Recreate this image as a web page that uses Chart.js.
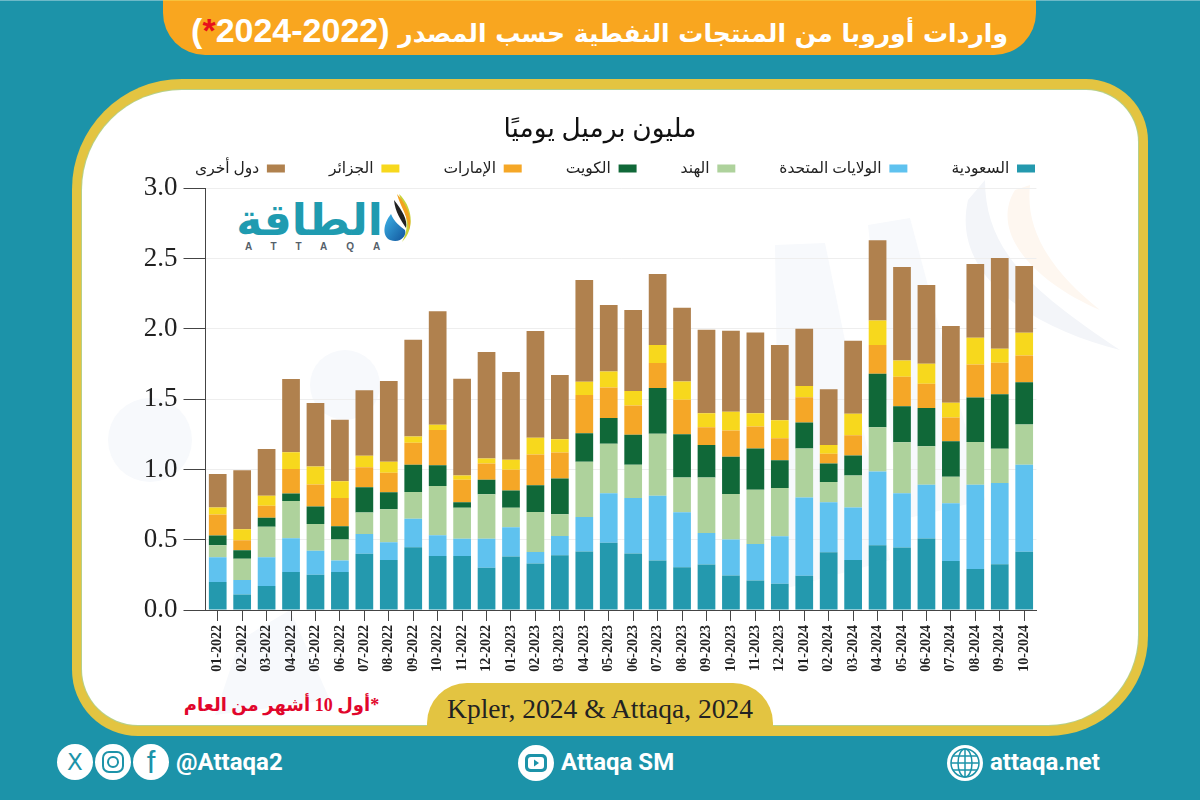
<!DOCTYPE html>
<html lang="ar">
<head>
<meta charset="utf-8">
<title>واردات أوروبا من المنتجات النفطية</title>
<script src="https://cdn.jsdelivr.net/npm/chart.js@4"></script>
<style>
  html, body { margin: 0; padding: 0; }
  body { width: 1200px; height: 800px; background: #1c93a9; position: relative; overflow: hidden; font-family: "Liberation Serif", "DejaVu Sans", serif; }
  .abs { position: absolute; white-space: nowrap; }
  #topLine { left: 0; top: 0; width: 1200px; height: 1px; background: #6db9c8; }
  #banner { left: 163px; top: 0; width: 873px; height: 55px; background: #f9a61f; border-radius: 0 0 42px 42px; border-top: 1px solid #f7c23c; box-sizing: border-box; }
  #headline { left: 163px; width: 873px; top: 11px; text-align: center; color: #fff; font: bold 25px "DejaVu Sans", sans-serif; direction: rtl; line-height: 44px; }
  #headline b { font: bold 34px "Liberation Sans", sans-serif; }
  #headline span { color: #e8111b; }
  #frame { left: 72px; top: 79px; width: 1076px; height: 657px; background: #e3c441; border-radius: 110px 62px 100px 66px; }
  #panel { left: 82px; top: 90px; width: 1056px; height: 635px; background: #fff; border-radius: 100px 52px 90px 56px; box-shadow: 0 0 0 1px #b5d08a; }
  #watermark { left: 82px; top: 90px; }
  #sourceTab { left: 427px; top: 683px; width: 346px; height: 52px; background: #e3c441; border-radius: 40px 40px 0 0; }
  #sourceText { left: 427px; width: 346px; top: 693px; text-align: center; font: 27.500px "Liberation Serif", serif; color: #222; line-height: 32px; }
  #footnote { left: 183px; top: 690px; width: 197px; text-align: center; font: bold 18px "Liberation Serif", "DejaVu Sans", serif; color: #e1062c; direction: rtl; line-height: 30px; }
  #chartBox { left: 90px; top: 55px; width: 955px; height: 625px; }
  #logoText { left: 232px; top: 194px; width: 155px; text-align: center; font: bold 44px "DejaVu Sans", sans-serif; color: #1f9bb0; line-height: 52px; direction: rtl; }
  #logoLatin { left: 245px; top: 240px; font: bold 10px "Liberation Sans", sans-serif; letter-spacing: 19px; color: #55606a; line-height: 14px; }
  .handle { top: 747px; font: bold 24px "Roboto", "Liberation Sans", sans-serif; color: #fff; line-height: 30px; }
</style>
</head>
<body>
<div class="abs" id="topLine"></div>
<div class="abs" id="banner"></div>
<div class="abs" id="headline">واردات أوروبا من المنتجات النفطية حسب المصدر <b>(2022-2024<span>*</span>)</b></div>
<div class="abs" id="frame"></div>
<div class="abs" id="panel"></div>

<svg class="abs" id="watermark" width="1056" height="635" viewBox="82 90 1056 635">
  <g fill="#f7f9fc">
    <polygon points="775,245 825,243 890,560 780,590"/>
    <polygon points="868,225 910,218 985,500 900,520"/>
    <circle cx="150" cy="440" r="42"/>
    <circle cx="345" cy="385" r="35"/>
    <polygon points="240,640 290,610 330,700 215,715"/>
  </g>
  <path d="M968,200 C950,280 1040,330 1120,350 C1030,290 985,250 985,180 Z" fill="#f3f5f9"/>
  <path d="M1015,190 C990,230 1030,280 1100,310 C1050,270 1025,230 1030,185 Z" fill="#fef7f0"/>
</svg>

<div class="abs" id="sourceTab"></div>
<div class="abs" id="sourceText">Kpler, 2024 &amp; Attaqa, 2024</div>
<div class="abs" id="footnote">*أول 10 أشهر من العام</div>

<div class="abs" id="logoText">الطاقة</div>
<div class="abs" id="logoLatin">ATTAQA</div>
<svg class="abs" style="left:382px;top:192px" width="34" height="54" viewBox="0 0 34 54">
  <defs><linearGradient id="drop" x1="0" y1="0" x2="1" y2="1"><stop offset="0" stop-color="#3db4e8"/><stop offset="1" stop-color="#12559c"/></linearGradient></defs>
  <path d="M17,2 C30,14 34,36 20,50 C30,32 22,18 17,2 Z" fill="#c8d23a"/>
  <path d="M15,2 C26,14 31,28 27,38 C27,26 18,14 15,2 Z" fill="#f2a11f"/>
  <path d="M12,8 C20,18 26,28 24,36 C19,28 13,20 12,8 Z" fill="#222"/>
  <path d="M9,22 C1,32 0,44 8,48 C18,52 25,44 23,38 C18,34 12,30 9,22 Z" fill="url(#drop)"/>
</svg>

<div class="abs" id="chartBox"><canvas id="chart" width="955" height="625"></canvas></div>

<svg class="abs" style="left:55px;top:742px" width="120" height="40" viewBox="0 0 120 40">
  <circle cx="20" cy="20" r="18" fill="#fff"/><circle cx="58" cy="20" r="18" fill="#fff"/><circle cx="96" cy="20" r="18" fill="#fff"/>
  <text x="20" y="28" text-anchor="middle" font-family="DejaVu Sans" font-size="23" fill="#1c93a9">X</text>
  <rect x="48" y="10" width="20" height="20" rx="6" fill="none" stroke="#1c93a9" stroke-width="2"/>
  <circle cx="58" cy="20" r="5" fill="none" stroke="#1c93a9" stroke-width="2"/>
  <text x="96" y="31" text-anchor="middle" font-family="Liberation Sans" font-size="31" fill="#1c93a9">f</text>
</svg>
<div class="abs handle" style="left:176px">@Attaqa2</div>
<svg class="abs" style="left:517px;top:744px" width="38" height="38" viewBox="0 0 38 38">
  <circle cx="19" cy="19" r="18" fill="#fff"/>
  <rect x="8" y="10" width="22" height="18" rx="5" fill="#1c93a9"/>
  <rect x="11" y="13" width="16" height="12" rx="3" fill="#fff"/>
  <polygon points="17,15.500 22,19 17,22.500" fill="#1c93a9"/>
</svg>
<div class="abs handle" style="left:561px">Attaqa SM</div>
<svg class="abs" style="left:946px;top:744px" width="38" height="38" viewBox="0 0 38 38">
  <circle cx="19" cy="19" r="18" fill="#fff"/>
  <g fill="none" stroke="#1c93a9" stroke-width="1.500">
    <circle cx="19" cy="19" r="14"/><ellipse cx="19" cy="19" rx="7" ry="14"/>
    <line x1="5" y1="19" x2="33" y2="19"/><line x1="19" y1="5" x2="19" y2="33"/>
    <line x1="7" y1="12" x2="31" y2="12"/><line x1="7" y1="26" x2="31" y2="26"/>
  </g>
</svg>
<div class="abs handle" style="left:990px">attaqa.net</div>

<script>
const months = ['01-2022','02-2022','03-2022','04-2022','05-2022','06-2022','07-2022','08-2022','09-2022','10-2022','11-2022','12-2022',
  '01-2023','02-2023','03-2023','04-2023','05-2023','06-2023','07-2023','08-2023','09-2023','10-2023','11-2023','12-2023',
  '01-2024','02-2024','03-2024','04-2024','05-2024','06-2024','07-2024','08-2024','09-2024','10-2024'];

const saudi = [.20,.11,.17,.27,.25,.27,.40,.355,.447,.385,.385,.30,.38,.33,.39,.416,.478,.402,.352,.305,.324,.246,.21,.187,.243,.411,.355,.461,.444,.508,.348,.291,.326,.414];
const usa = [.176,.103,.205,.241,.172,.083,.14,.127,.203,.147,.121,.206,.209,.082,.137,.246,.352,.395,.461,.39,.224,.255,.26,.338,.557,.355,.375,.525,.386,.383,.411,.60,.577,.619];
const india = [.084,.151,.218,.265,.19,.149,.153,.234,.189,.35,.222,.317,.139,.286,.154,.392,.352,.236,.44,.248,.395,.324,.386,.343,.349,.144,.227,.314,.364,.274,.189,.305,.244,.286];
const kuwait = [.07,.061,.064,.052,.125,.094,.18,.121,.194,.148,.038,.104,.123,.19,.255,.204,.184,.213,.327,.307,.23,.265,.293,.198,.184,.133,.142,.38,.255,.272,.252,.315,.387,.301];
const uae = [.15,.071,.085,.175,.156,.20,.142,.139,.157,.251,.161,.116,.147,.219,.185,.272,.216,.208,.177,.245,.127,.187,.156,.156,.18,.068,.144,.205,.211,.173,.169,.236,.225,.191];
const algeria = [.05,.078,.071,.12,.128,.12,.083,.078,.044,.036,.03,.035,.071,.119,.094,.094,.115,.104,.128,.131,.10,.134,.095,.128,.081,.062,.154,.174,.115,.142,.106,.189,.099,.161];
const others = [.237,.421,.333,.52,.451,.437,.465,.576,.688,.808,.688,.757,.624,.759,.457,.724,.473,.576,.505,.525,.593,.575,.574,.535,.406,.397,.518,.572,.665,.56,.546,.525,.646,.475];

const yTicks = [0, 0.5, 1, 1.5, 2, 2.5, 3];

const arabicFont = '"Liberation Serif", "DejaVu Sans", serif';

const makeSeries = (label, data, color) => ({
  label, data, backgroundColor: color, borderWidth: 0,
  barPercentage: 0.725, categoryPercentage: 1
});

// title and legend sit closer together than the layout boxes allow
const nudgeHeader = {
  id: 'nudgeHeader',
  afterLayout(chart) {
    const t = chart.titleBlock;
    t.left += 32.5; t.right += 32.5;
    t.top += 51; t.bottom += 51;
    const l = chart.legend;
    l.left += 34; l.right += 34;
    l.top -= 2; l.bottom -= 2;
  }
};

new Chart(document.getElementById('chart').getContext('2d'), {
  type: 'bar',
  data: {
    labels: months,
    datasets: [
      makeSeries('السعودية', saudi, '#2499ae'),
      makeSeries('الولايات المتحدة', usa, '#5fc2ef'),
      makeSeries('الهند', india, '#aed29c'),
      makeSeries('الكويت', kuwait, '#106838'),
      makeSeries('الإمارات', uae, '#f5a727'),
      makeSeries('الجزائر', algeria, '#f7d81d'),
      makeSeries('دول أخرى', others, '#b0814e')
    ]
  },
  plugins: [nudgeHeader],
  options: {
    responsive: false,
    animation: false,
    layout: { padding: 0 },
    scales: {
      x: {
        stacked: true,
        afterFit: (scale) => { scale.height = 70; },
        grid: { display: true, offset: false, drawOnChartArea: false, tickLength: 11, tickColor: '#444', tickWidth: 1 },
        border: { color: '#444', width: 1 },
        ticks: {
          autoSkip: false, minRotation: 90, maxRotation: 90, padding: 4,
          color: '#222', font: { family: '"Liberation Serif", serif', size: 14, weight: 'bold' }
        }
      },
      y: {
        stacked: true, min: 0, max: 3,
        afterFit: (scale) => { scale.width = 115.5; },
        afterBuildTicks: (scale) => { scale.ticks = yTicks.map((value) => ({ value })); },
        grid: { color: '#eeeeee', tickColor: '#444', tickLength: 22, tickWidth: 1 },
        border: { color: '#444', width: 1 },
        ticks: {
          padding: 6, color: '#222',
          font: { family: '"Liberation Serif", serif', size: 27 },
          callback: (value) => value.toFixed(1)
        }
      }
    },
    plugins: {
      tooltip: { enabled: false },
      title: {
        display: true,
        text: 'مليون برميل يوميًا',
        color: '#111',
        font: { family: arabicFont, size: 26.5, weight: 'normal' },
        padding: { top: 8, bottom: 24 }
      },
      legend: {
        position: 'top', align: 'start', rtl: true,
        labels: {
          boxWidth: 18, boxHeight: 8, padding: 44, color: '#222',
          font: { family: arabicFont, size: 15.5 }
        }
      }
    }
  }
});
</script>
</body>
</html>
